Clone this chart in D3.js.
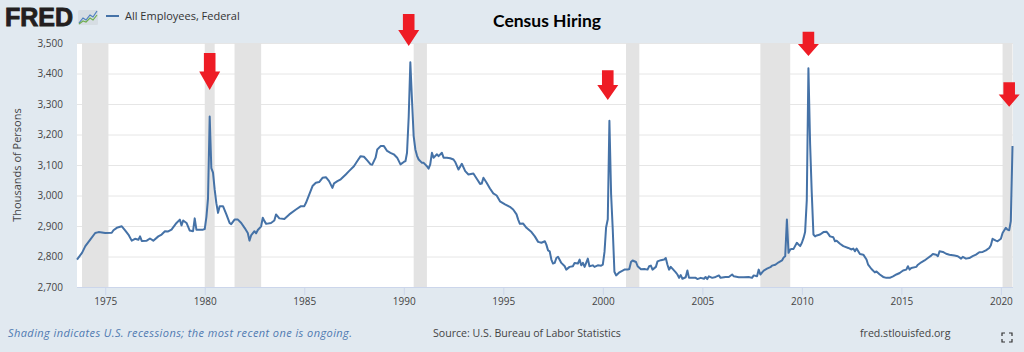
<!DOCTYPE html>
<html>
<head>
<meta charset="utf-8">
<style>
  body { margin: 0; background: #e1e9f0; }
  svg { display: block; font-family: "Open Sans", sans-serif; }
</style>
</head>
<body>
<svg width="1024" height="352"></svg>
<script src="https://cdn.jsdelivr.net/npm/d3@7/dist/d3.min.js"></script>
<script>
// All Employees, Federal (thousands)
let fedEmployees = [
  ["1973-08", 2790], ["1973-11", 2812], ["1974-01", 2834], ["1974-04", 2855], ["1974-07", 2877], ["1974-09", 2880],
  ["1975-01", 2877], ["1975-05", 2878], ["1975-06", 2886], ["1975-08", 2894], ["1975-11", 2899],
  ["1976-01", 2886], ["1976-03", 2872], ["1976-05", 2852], ["1976-07", 2858], ["1976-09", 2855], ["1976-10", 2866], ["1976-11", 2851],
  ["1977-02", 2852], ["1977-04", 2859], ["1977-06", 2852], ["1977-09", 2866], ["1977-11", 2872],
  ["1978-01", 2883], ["1978-03", 2882], ["1978-05", 2888], ["1978-08", 2910], ["1978-10", 2921], ["1978-11", 2902], ["1978-12", 2918],
  ["1979-02", 2910], ["1979-04", 2885], ["1979-06", 2883], ["1979-07", 2925], ["1979-08", 2888], ["1979-12", 2888],
  ["1980-01", 2890], ["1980-02", 2930], ["1980-03", 2990], ["1980-04", 3259], ["1980-05", 3090], ["1980-06", 3075],
  ["1980-07", 3020], ["1980-08", 2975], ["1980-09", 2943], ["1980-10", 2965], ["1980-12", 2965],
  ["1981-02", 2938], ["1981-04", 2910], ["1981-05", 2906], ["1981-07", 2921], ["1981-09", 2921], ["1981-11", 2910],
  ["1982-01", 2894], ["1982-03", 2877], ["1982-04", 2852], ["1982-05", 2869], ["1982-07", 2883], ["1982-08", 2876],
  ["1982-09", 2887], ["1982-11", 2899], ["1982-12", 2927],
  ["1983-01", 2916], ["1983-02", 2907], ["1983-05", 2910], ["1983-07", 2918], ["1983-08", 2938], ["1983-10", 2925],
  ["1984-01", 2923], ["1984-04", 2938], ["1984-08", 2954], ["1984-11", 2965],
  ["1985-01", 2965], ["1985-02", 2976], ["1985-04", 3003], ["1985-06", 3031], ["1985-08", 3042], ["1985-10", 3044], ["1985-12", 3058],
  ["1986-02", 3060], ["1986-04", 3047], ["1986-06", 3025], ["1986-07", 3040], ["1986-09", 3047], ["1986-11", 3053],
  ["1987-02", 3069], ["1987-04", 3080], ["1987-07", 3096], ["1987-09", 3113], ["1987-11", 3129],
  ["1988-01", 3127], ["1988-03", 3115], ["1988-05", 3102], ["1988-06", 3101], ["1988-08", 3124], ["1988-09", 3151], ["1988-11", 3162],
  ["1989-01", 3162], ["1989-03", 3146], ["1989-05", 3140], ["1989-07", 3135], ["1989-09", 3124], ["1989-11", 3102],
  ["1990-01", 3110], ["1990-02", 3113], ["1990-03", 3140], ["1990-04", 3258], ["1990-05", 3437], ["1990-06", 3310],
  ["1990-07", 3195], ["1990-08", 3151], ["1990-09", 3130], ["1990-10", 3118], ["1990-12", 3107],
  ["1991-01", 3107], ["1991-03", 3096], ["1991-04", 3088], ["1991-05", 3102], ["1991-06", 3140], ["1991-07", 3124],
  ["1991-09", 3135], ["1991-10", 3129], ["1991-12", 3140],
  ["1992-01", 3124], ["1992-03", 3124], ["1992-05", 3122], ["1992-07", 3118], ["1992-08", 3110], ["1992-10", 3085], ["1992-12", 3104],
  ["1993-02", 3080], ["1993-04", 3069], ["1993-07", 3072], ["1993-09", 3055], ["1993-11", 3038], ["1993-12", 3039],
  ["1994-01", 3058], ["1994-03", 3042], ["1994-05", 3023], ["1994-07", 3007], ["1994-09", 3000], ["1994-11", 2981],
  ["1995-02", 2971], ["1995-05", 2963], ["1995-07", 2954], ["1995-09", 2938], ["1995-10", 2921], ["1995-11", 2907],
  ["1996-01", 2908], ["1996-03", 2894], ["1996-06", 2880], ["1996-08", 2866], ["1996-10", 2848], ["1996-12", 2845],
  ["1997-02", 2850], ["1997-03", 2839], ["1997-04", 2820], ["1997-05", 2817], ["1997-06", 2790], ["1997-07", 2777],
  ["1997-08", 2779], ["1997-09", 2795], ["1997-10", 2799], ["1997-12", 2779],
  ["1998-02", 2768], ["1998-03", 2757], ["1998-05", 2766], ["1998-07", 2768], ["1998-08", 2779], ["1998-10", 2777],
  ["1998-11", 2790], ["1998-12", 2771],
  ["1999-01", 2779], ["1999-02", 2766], ["1999-04", 2793], ["1999-05", 2768], ["1999-07", 2771], ["1999-08", 2766],
  ["1999-10", 2771], ["1999-12", 2770],
  ["2000-01", 2773], ["2000-02", 2815], ["2000-03", 2895], ["2000-04", 2922], ["2000-05", 3245], ["2000-06", 3005],
  ["2000-07", 2890], ["2000-08", 2750], ["2000-09", 2738], ["2000-11", 2748],
  ["2001-02", 2757], ["2001-04", 2757], ["2001-05", 2759], ["2001-06", 2782], ["2001-07", 2787], ["2001-09", 2782],
  ["2001-10", 2768], ["2001-12", 2758],
  ["2002-02", 2759], ["2002-04", 2757], ["2002-05", 2768], ["2002-06", 2770], ["2002-07", 2757], ["2002-09", 2766],
  ["2002-10", 2784], ["2002-12", 2788],
  ["2003-02", 2790], ["2003-03", 2795], ["2003-04", 2773], ["2003-05", 2757], ["2003-06", 2766], ["2003-07", 2760],
  ["2003-09", 2748], ["2003-10", 2741], ["2003-11", 2730], ["2003-12", 2739],
  ["2004-01", 2727], ["2004-03", 2732], ["2004-04", 2754], ["2004-05", 2730], ["2004-07", 2730], ["2004-09", 2730],
  ["2004-10", 2726], ["2004-12", 2730],
  ["2005-02", 2727], ["2005-03", 2733], ["2005-04", 2726], ["2005-05", 2735], ["2005-07", 2730], ["2005-09", 2733],
  ["2005-11", 2738], ["2005-12", 2730],
  ["2006-03", 2733], ["2006-05", 2733], ["2006-07", 2741], ["2006-08", 2735], ["2006-11", 2732],
  ["2007-02", 2732], ["2007-05", 2733], ["2007-07", 2730], ["2007-08", 2738], ["2007-10", 2735], ["2007-11", 2757], ["2007-12", 2741],
  ["2008-02", 2754], ["2008-04", 2760], ["2008-06", 2765], ["2008-07", 2770], ["2008-09", 2773], ["2008-11", 2781],
  ["2009-01", 2787], ["2009-02", 2797], ["2009-03", 2801], ["2009-04", 2921], ["2009-05", 2812], ["2009-06", 2823],
  ["2009-07", 2825], ["2009-08", 2825], ["2009-10", 2845], ["2009-11", 2839], ["2009-12", 2834],
  ["2010-01", 2845], ["2010-02", 2861], ["2010-03", 2880], ["2010-04", 2985], ["2010-05", 3417], ["2010-06", 3170],
  ["2010-07", 3010], ["2010-08", 2872], ["2010-09", 2866], ["2010-10", 2869], ["2010-12", 2872],
  ["2011-02", 2880], ["2011-04", 2881], ["2011-05", 2874], ["2011-06", 2866], ["2011-08", 2863], ["2011-09", 2850],
  ["2011-10", 2852], ["2011-12", 2842],
  ["2012-02", 2834], ["2012-05", 2828], ["2012-07", 2823], ["2012-08", 2826], ["2012-09", 2817], ["2012-10", 2826], ["2012-12", 2808],
  ["2013-02", 2806], ["2013-04", 2790], ["2013-05", 2773], ["2013-07", 2759], ["2013-09", 2748], ["2013-10", 2751], ["2013-12", 2741],
  ["2014-02", 2733], ["2014-04", 2730], ["2014-06", 2730], ["2014-08", 2735], ["2014-10", 2741], ["2014-12", 2746],
  ["2015-02", 2754], ["2015-04", 2757], ["2015-05", 2768], ["2015-06", 2757], ["2015-07", 2762], ["2015-10", 2766], ["2015-11", 2773],
  ["2016-01", 2781], ["2016-03", 2787], ["2016-05", 2795], ["2016-07", 2803], ["2016-08", 2808], ["2016-10", 2806],
  ["2016-11", 2801], ["2016-12", 2817],
  ["2017-02", 2815], ["2017-04", 2809], ["2017-06", 2806], ["2017-09", 2803], ["2017-11", 2801],
  ["2018-01", 2793], ["2018-02", 2799], ["2018-04", 2793], ["2018-06", 2795], ["2018-08", 2801], ["2018-10", 2806], ["2018-12", 2814],
  ["2019-02", 2815], ["2019-04", 2820], ["2019-06", 2828], ["2019-07", 2837], ["2019-08", 2858], ["2019-10", 2852], ["2019-11", 2850],
  ["2020-01", 2858], ["2020-02", 2877], ["2020-04", 2894], ["2020-05", 2888], ["2020-06", 2886], ["2020-07", 2916], ["2020-08", 3162]
];

let recessions = [
  ["1973-11", "1975-03"], ["1980-01", "1980-07"], ["1981-07", "1982-11"], ["1990-07", "1991-03"],
  ["2001-03", "2001-11"], ["2007-12", "2009-06"], ["2020-02", "2020-08"]
];

// red arrows over the census years: date, value at the tip, value at the tail
let censusArrows = [
  {date: "1980-04", tip: 3346, tail: 3467},
  {date: "1990-04", tip: 3490, tail: 3595},
  {date: "2000-04", tip: 3313, tail: 3411},
  {date: "2010-05", tip: 3457, tail: 3537},
  {date: "2020-06", tip: 3291, tail: 3371}
];

let yTicks = [2700, 2800, 2900, 3000, 3100, 3200, 3300, 3400, 3500];
let xTickYears = [1975, 1980, 1985, 1990, 1995, 2000, 2005, 2010, 2015, 2020];

let parseMonth = d3.timeParse("%Y-%m");
let series = fedEmployees.map(function(d) {
    return {date: parseMonth(d[0]), value: d[1]};
});

let plotLeft = 77, plotRight = 1012.5, plotTop = 43, plotBottom = 287;

let x = d3.scaleTime()
    .domain([parseMonth("1973-08"), parseMonth("2020-08")])
    .range([plotLeft, plotRight]);
let y = d3.scaleLinear()
    .domain([2700, 3500])
    .range([plotBottom, plotTop]);

let svg = d3.select("svg");

svg.append("rect")
    .attr("width", 1024).attr("height", 352)
    .attr("fill", "#e1e9f0");

svg.append("rect")
    .attr("x", plotLeft).attr("y", plotTop)
    .attr("width", plotRight - plotLeft + 0.5).attr("height", plotBottom - plotTop)
    .attr("fill", "#ffffff");

// horizontal grid
let grid = svg.append("g")
    .attr("transform", "translate(" + plotLeft + ",0)")
    .call(d3.axisLeft(y).tickValues(yTicks).tickSize(-(plotRight - plotLeft + 0.5)).tickFormat(""));
grid.select(".domain").remove();
grid.selectAll("line").attr("stroke", "#e6e6e6");

// recession shading
svg.append("g")
    .selectAll("rect")
    .data(recessions)
    .enter()
    .append("rect")
    .attr("x", function(d) { return x(parseMonth(d[0])); })
    .attr("y", plotTop)
    .attr("width", function(d) { return Math.min(x(parseMonth(d[1])), plotRight + 0.5) - x(parseMonth(d[0])); })
    .attr("height", plotBottom - plotTop)
    .attr("fill", "#e3e3e3");

// y labels
let yAxis = svg.append("g")
    .attr("transform", "translate(" + plotLeft + ",0)")
    .call(d3.axisLeft(y).tickValues(yTicks).tickSize(0).tickPadding(14).tickFormat(d3.format(",")));
yAxis.select(".domain").remove();
yAxis.selectAll("text")
    .attr("font-family", "Open Sans")
    .attr("font-size", 10)
    .attr("fill", "#444");

// x axis
let xAxis = svg.append("g")
    .attr("transform", "translate(0," + plotBottom + ")")
    .call(d3.axisBottom(x)
        .tickValues(xTickYears.map(function(yr) { return new Date(yr, 0, 1); }))
        .tickSize(8).tickPadding(3)
        .tickFormat(d3.timeFormat("%Y")));
xAxis.select(".domain")
    .attr("d", "M" + plotLeft + ",0.5H" + (plotRight + 0.5))
    .attr("stroke", "#ccd6eb");
xAxis.selectAll("line").attr("stroke", "#ccd6eb");
xAxis.selectAll("text")
    .attr("font-family", "Open Sans")
    .attr("font-size", 10)
    .attr("fill", "#444");

svg.append("text")
    .attr("transform", "translate(21," + ((plotTop + plotBottom) / 2) + ") rotate(-90)")
    .attr("text-anchor", "middle")
    .attr("font-size", 11)
    .attr("fill", "#444")
    .text("Thousands of Persons");

// the series
let line = d3.line()
    .x(function(d) { return x(d.date); })
    .y(function(d) { return y(d.value); });

svg.append("path")
    .datum(series)
    .attr("d", line)
    .attr("fill", "none")
    .attr("stroke", "#4572a7")
    .attr("stroke-width", 2)
    .attr("stroke-linejoin", "round");

// arrows
svg.append("g")
    .selectAll("path")
    .data(censusArrows)
    .enter()
    .append("path")
    .attr("fill", "#ee1c25")
    .attr("d", function(d) {
        let cx = x(parseMonth(d.date)), y0 = y(d.tail), y1 = y(d.tip);
        let headH = (y1 - y0) * 0.5, sw = 5.8, hw = 10.5;
        return "M" + (cx - sw) + "," + y0 + "H" + (cx + sw) + "V" + (y1 - headH) + "H" + (cx + hw) +
            "L" + cx + "," + y1 + "L" + (cx - hw) + "," + (y1 - headH) + "H" + (cx - sw) + "Z";
    });

// header
svg.append("text")
    .attr("x", 5).attr("y", 26)
    .attr("font-family", "Liberation Sans")
    .attr("font-weight", "bold")
    .attr("font-size", 25)
    .attr("fill", "#231f20")
    .attr("stroke", "#231f20")
    .attr("stroke-width", 0.9)
    .text("FRED");

let icon = svg.append("g").attr("transform", "translate(78,10)");
icon.append("rect")
    .attr("width", 20).attr("height", 15).attr("rx", 1.5)
    .attr("fill", "#d6dde3");
icon.append("polyline")
    .attr("points", "1,13 5,8 8,10 12,5 15,7 19,1")
    .attr("fill", "none").attr("stroke", "#4d7fbf").attr("stroke-width", 1.2);
icon.append("polyline")
    .attr("points", "1,14 5,11 8,12 12,8 15,10 19,5")
    .attr("fill", "none").attr("stroke", "#6fae4f").attr("stroke-width", 1.2);

svg.append("line")
    .attr("x1", 106).attr("x2", 119).attr("y1", 16).attr("y2", 16)
    .attr("stroke", "#4572a7").attr("stroke-width", 2);
svg.append("text")
    .attr("x", 125).attr("y", 20)
    .attr("font-size", 11)
    .attr("fill", "#333")
    .text("All Employees, Federal");

svg.append("text")
    .attr("x", 547).attr("y", 27)
    .attr("text-anchor", "middle")
    .attr("font-family", "Lato")
    .attr("font-weight", "bold")
    .attr("font-size", 17.5)
    .attr("fill", "#000")
    .text("Census Hiring");

// footer
svg.append("text")
    .attr("x", 8).attr("y", 337)
    .attr("font-size", 11)
    .attr("font-style", "italic")
    .attr("fill", "#4f79b0")
    .attr("textLength", 344)
    .attr("lengthAdjust", "spacing")
    .text("Shading indicates U.S. recessions; the most recent one is ongoing.");
svg.append("text")
    .attr("x", 433).attr("y", 337)
    .attr("font-size", 10.6)
    .attr("fill", "#444")
    .text("Source: U.S. Bureau of Labor Statistics");
svg.append("text")
    .attr("x", 860).attr("y", 337)
    .attr("font-size", 10.6)
    .attr("fill", "#444")
    .text("fred.stlouisfed.org");

svg.append("path")
    .attr("d", "M1002,336V333H1005M1009,333H1012V336M1012,339V342H1009M1005,342H1002V339")
    .attr("fill", "none")
    .attr("stroke", "#333")
    .attr("stroke-width", 1.2);
</script>
</body>
</html>
